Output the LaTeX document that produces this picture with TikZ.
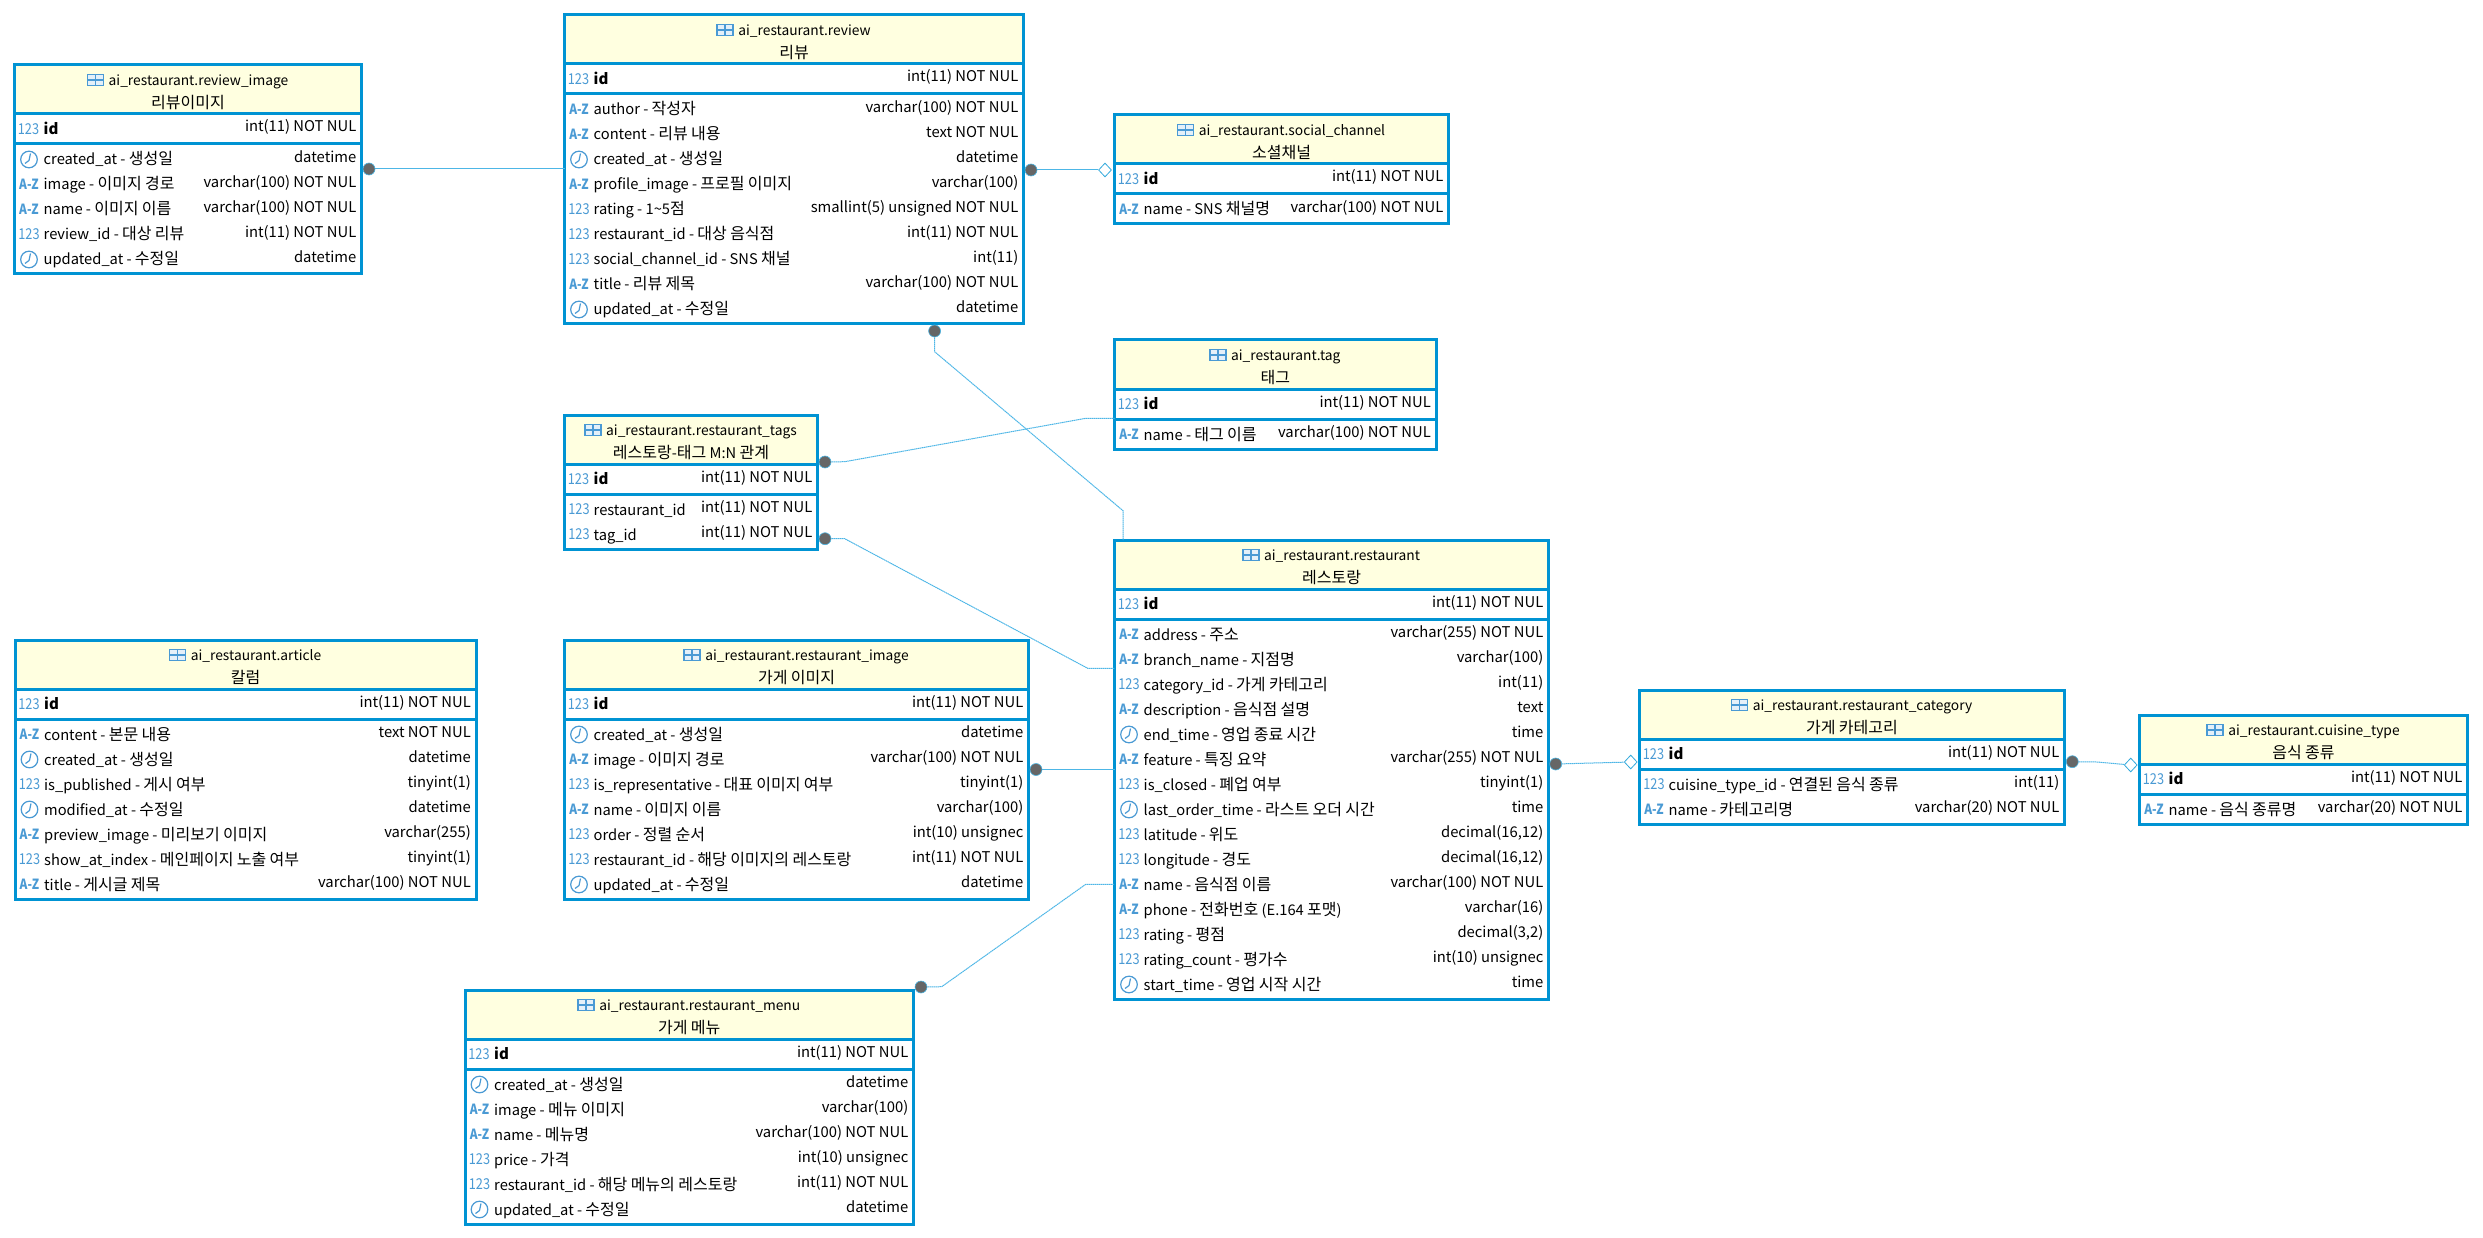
\documentclass[tikz,border=0pt]{standalone}
\usepackage{fontspec}
\setmainfont{Noto Sans CJK KR}
\newfontfamily\krfont[Scale=1.09]{Noto Sans CJK KR}
\newfontfamily\iconfont[FakeStretch=0.85]{Noto Sans CJK KR}
\usepackage{xcolor}
\usetikzlibrary{shapes.geometric}

% hangul is set a little larger than the latin text
\XeTeXinterchartokenstate=1
\newXeTeXintercharclass\krclass
\newcount\krchar
\krchar="AC00
\loop\ifnum\krchar<"D7A4
    \XeTeXcharclass\krchar=\krclass
    \advance\krchar by 1
\repeat
\XeTeXinterchartoks 0 \krclass={\bgroup\krfont}
\XeTeXinterchartoks 4095 \krclass={\bgroup\krfont}
\XeTeXinterchartoks \krclass 0={\egroup}
\XeTeXinterchartoks \krclass 4095={\egroup}

\definecolor{tableblue}{HTML}{0093D3}
\definecolor{headyellow}{HTML}{FFFFE0}
\definecolor{iconblue}{HTML}{4A9AD4}
\definecolor{linkblue}{HTML}{4DB6E6}
\definecolor{dotgray}{HTML}{666666}

\tikzset{
    tablebody/.style={draw=tableblue, line width=3pt, fill=white, rectangle, inner sep=0pt, outer sep=0pt, anchor=north west},
    tablehead/.style={tablebody, fill=headyellow},
    titletext/.style={inner sep=0pt, anchor=base, font=\fontsize{13.8}{18}\selectfont},
    notetext/.style={inner sep=0pt, anchor=base, font=\fontsize{14.7}{18}\selectfont},
    labeltext/.style={inner sep=0pt, anchor=base west, font=\fontsize{14.7}{18}\selectfont},
    typetext/.style={inner sep=0pt, anchor=base east, font=\fontsize{14.8}{18}\selectfont},
    fklink/.style={draw=linkblue, line width=1pt, dash pattern=on 1.5pt off .5pt},
    fkdot/.style={circle, draw=tableblue!70, line width=.6pt, fill=dotgray, minimum size=12pt, inner sep=0pt},
    fkdiamond/.style={diamond, draw=tableblue!80, line width=.8pt, fill=white, minimum width=13pt, minimum height=14pt, inner sep=0pt},
    pics/numicon/.style={code={\node[inner sep=0pt, text=iconblue, font=\iconfont\fontsize{15}{16}\selectfont] (-n) at (0,0) {123};}},
    pics/txticon/.style={code={\node[inner sep=0pt, text=iconblue, font=\iconfont\fontsize{14}{16}\bfseries] (-n) at (0,0) {A-Z};}},
    pics/clkicon/.style={code={
        \draw[iconblue, line width=1.2pt] (0,0) circle (8.3pt);
        \draw[iconblue, line width=1.2pt] (1.5,-6) -- (0,1) -- (-4,4);
    }},
    pics/gridicon/.style={code={
        \fill[iconblue!15] (-8,-5.6) rectangle (8,5.6);
        \draw[iconblue, line width=1.5pt] (-8,-5.6) rectangle (8,5.6);
        \draw[iconblue, line width=1.5pt] (-8,0) -- (8,0) (0,-5.6) -- (0,5.6);
    }},
}

% table frame: name, left, top, width, rows, title, comment, key type
\newcommand{\tablebox}[8]{
    \node[tablebody, minimum width=#4pt, minimum height={84pt+25pt*#5}] (#1) at (#2,#3) {};
    \node[tablehead, minimum width=#4pt, minimum height=49pt] (#1-head) at (#2,#3) {};
    \node[tablebody, minimum width=#4pt, minimum height=30pt] (#1-key) at (#1-head.south west) {};
    \node[titletext, xshift=10.5pt, yshift=-20.8pt] (#1-title) at (#1-head.north) {#6};
    \pic at ([xshift=-13pt, yshift=5.7pt]#1-title.base west) {gridicon};
    \node[notetext, yshift=-43.8pt] (#1-note) at (#1-head.north) {#7};
    \pic (#1-keyicon) at ([xshift=14pt, yshift=-15pt]#1-head.south west) {numicon};
    \node[labeltext, font=\fontsize{15}{18}\bfseries, xshift=29pt, yshift=-20.7pt] (#1-keyname) at (#1-head.south west) {id};
    \node[typetext, xshift=-5pt, yshift=-18pt] (#1-keytype) at (#1-head.south east) {#8};
}
% table row: table, index, icon, label, type
\newcommand{\colrow}[5]{
    \pic (#1-i#2) at ([xshift=14.5pt, yshift={-15.5pt-25pt*(#2-1)}]#1-key.south west) {#3icon};
    \node[labeltext, xshift=29pt, yshift={-21pt-25pt*(#2-1)}] (#1-l#2) at (#1-key.south west) {#4};
    \node[typetext, xshift=-5pt, yshift={-18.5pt-25pt*(#2-1)}] (#1-t#2) at (#1-key.south east) {#5};
}

\begin{document}
\begin{tikzpicture}[x=1pt, y=-1pt]
    \useasboundingbox (0,0) rectangle (2483,1238);

    % Review tables
    \tablebox{reviewimage}{14.5}{65}{347}{5}{ai\_restaurant.review\_image}{리뷰이미지}{int(11) NOT NUL}
    \colrow{reviewimage}{1}{clk}{created\_at - 생성일}{datetime}
    \colrow{reviewimage}{2}{txt}{image - 이미지 경로}{varchar(100) NOT NUL}
    \colrow{reviewimage}{3}{txt}{name - 이미지 이름}{varchar(100) NOT NUL}
    \colrow{reviewimage}{4}{num}{review\_id - 대상 리뷰}{int(11) NOT NUL}
    \colrow{reviewimage}{5}{clk}{updated\_at - 수정일}{datetime}

    \tablebox{review}{564.5}{15}{459}{9}{ai\_restaurant.review}{리뷰}{int(11) NOT NUL}
    \colrow{review}{1}{txt}{author - 작성자}{varchar(100) NOT NUL}
    \colrow{review}{2}{txt}{content - 리뷰 내용}{text NOT NUL}
    \colrow{review}{3}{clk}{created\_at - 생성일}{datetime}
    \colrow{review}{4}{txt}{profile\_image - 프로필 이미지}{varchar(100)}
    \colrow{review}{5}{num}{rating - 1\textasciitilde 5점}{smallint(5) unsigned NOT NUL}
    \colrow{review}{6}{num}{restaurant\_id - 대상 음식점}{int(11) NOT NUL}
    \colrow{review}{7}{num}{social\_channel\_id - SNS 채널}{int(11)}
    \colrow{review}{8}{txt}{title - 리뷰 제목}{varchar(100) NOT NUL}
    \colrow{review}{9}{clk}{updated\_at - 수정일}{datetime}

    \tablebox{socialchannel}{1114.5}{115}{334}{1}{ai\_restaurant.social\_channel}{소셜채널}{int(11) NOT NUL}
    \colrow{socialchannel}{1}{txt}{name - SNS 채널명}{varchar(100) NOT NUL}

    % Tag tables
    \tablebox{tag}{1114.5}{340}{321.5}{1}{ai\_restaurant.tag}{태그}{int(11) NOT NUL}
    \colrow{tag}{1}{txt}{name - 태그 이름}{varchar(100) NOT NUL}

    \tablebox{restauranttags}{564.5}{415}{253}{2}{ai\_restaurant.restaurant\_tags}{레스토랑-태그 M:N 관계}{int(11) NOT NUL}
    \colrow{restauranttags}{1}{num}{restaurant\_id}{int(11) NOT NUL}
    \colrow{restauranttags}{2}{num}{tag\_id}{int(11) NOT NUL}

    % Article
    \tablebox{article}{15}{640}{461}{7}{ai\_restaurant.article}{칼럼}{int(11) NOT NUL}
    \colrow{article}{1}{txt}{content - 본문 내용}{text NOT NUL}
    \colrow{article}{2}{clk}{created\_at - 생성일}{datetime}
    \colrow{article}{3}{num}{is\_published - 게시 여부}{tinyint(1)}
    \colrow{article}{4}{clk}{modified\_at - 수정일}{datetime}
    \colrow{article}{5}{txt}{preview\_image - 미리보기 이미지}{varchar(255)}
    \colrow{article}{6}{num}{show\_at\_index - 메인페이지 노출 여부}{tinyint(1)}
    \colrow{article}{7}{txt}{title - 게시글 제목}{varchar(100) NOT NUL}

    \tablebox{restaurantimage}{564.5}{640}{464}{7}{ai\_restaurant.restaurant\_image}{가게 이미지}{int(11) NOT NUL}
    \colrow{restaurantimage}{1}{clk}{created\_at - 생성일}{datetime}
    \colrow{restaurantimage}{2}{txt}{image - 이미지 경로}{varchar(100) NOT NUL}
    \colrow{restaurantimage}{3}{num}{is\_representative - 대표 이미지 여부}{tinyint(1)}
    \colrow{restaurantimage}{4}{txt}{name - 이미지 이름}{varchar(100)}
    \colrow{restaurantimage}{5}{num}{order - 정렬 순서}{int(10) unsignec}
    \colrow{restaurantimage}{6}{num}{restaurant\_id - 해당 이미지의 레스토랑}{int(11) NOT NUL}
    \colrow{restaurantimage}{7}{clk}{updated\_at - 수정일}{datetime}

    \tablebox{restaurantmenu}{465}{990}{448.5}{6}{ai\_restaurant.restaurant\_menu}{가게 메뉴}{int(11) NOT NUL}
    \colrow{restaurantmenu}{1}{clk}{created\_at - 생성일}{datetime}
    \colrow{restaurantmenu}{2}{txt}{image - 메뉴 이미지}{varchar(100)}
    \colrow{restaurantmenu}{3}{txt}{name - 메뉴명}{varchar(100) NOT NUL}
    \colrow{restaurantmenu}{4}{num}{price - 가격}{int(10) unsignec}
    \colrow{restaurantmenu}{5}{num}{restaurant\_id - 해당 메뉴의 레스토랑}{int(11) NOT NUL}
    \colrow{restaurantmenu}{6}{clk}{updated\_at - 수정일}{datetime}

    % Restaurant and its category
    \tablebox{restaurant}{1114.5}{540}{434}{15}{ai\_restaurant.restaurant}{레스토랑}{int(11) NOT NUL}
    \colrow{restaurant}{1}{txt}{address - 주소}{varchar(255) NOT NUL}
    \colrow{restaurant}{2}{txt}{branch\_name - 지점명}{varchar(100)}
    \colrow{restaurant}{3}{num}{category\_id - 가게 카테고리}{int(11)}
    \colrow{restaurant}{4}{txt}{description - 음식점 설명}{text}
    \colrow{restaurant}{5}{clk}{end\_time - 영업 종료 시간}{time}
    \colrow{restaurant}{6}{txt}{feature - 특징 요약}{varchar(255) NOT NUL}
    \colrow{restaurant}{7}{num}{is\_closed - 폐업 여부}{tinyint(1)}
    \colrow{restaurant}{8}{clk}{last\_order\_time - 라스트 오더 시간}{time}
    \colrow{restaurant}{9}{num}{latitude - 위도}{decimal(16,12)}
    \colrow{restaurant}{10}{num}{longitude - 경도}{decimal(16,12)}
    \colrow{restaurant}{11}{txt}{name - 음식점 이름}{varchar(100) NOT NUL}
    \colrow{restaurant}{12}{txt}{phone - 전화번호 (E.164 포맷)}{varchar(16)}
    \colrow{restaurant}{13}{num}{rating - 평점}{decimal(3,2)}
    \colrow{restaurant}{14}{num}{rating\_count - 평가수}{int(10) unsignec}
    \colrow{restaurant}{15}{clk}{start\_time - 영업 시작 시간}{time}

    \tablebox{restaurantcategory}{1639.5}{690}{425}{2}{ai\_restaurant.restaurant\_category}{가게 카테고리}{int(11) NOT NUL}
    \colrow{restaurantcategory}{1}{num}{cuisine\_type\_id - 연결된 음식 종류}{int(11)}
    \colrow{restaurantcategory}{2}{txt}{name - 카테고리명}{varchar(20) NOT NUL}

    \tablebox{cuisinetype}{2139.5}{715}{328}{1}{ai\_restaurant.cuisine\_type}{음식 종류}{int(11) NOT NUL}
    \colrow{cuisinetype}{1}{txt}{name - 음식 종류명}{varchar(20) NOT NUL}

    % Link end points
    \node[fkdot] (dotreviewimage) at (369,169) {};
    \node[fkdot] (dotreviewsocial) at (1031,170) {};
    \node[fkdiamond] (endsocial) at (1105,170) {};
    \node[fkdot] (dotreview) at (934.6,331) {};
    \node[fkdot] (dottagsname) at (825,462) {};
    \node[fkdot] (dottagsid) at (825,538.7) {};
    \node[fkdot] (dotimage) at (1036,769.5) {};
    \node[fkdot] (dotmenu) at (921,987) {};
    \node[fkdot] (dotcategory) at (1555.7,764) {};
    \node[fkdiamond] (endcategory) at (1630.7,762) {};
    \node[fkdot] (dotcuisine) at (2072.3,761.7) {};
    \node[fkdiamond] (endcuisine) at (2130.7,765) {};

    % Link bends
    \coordinate (bendreviewa) at (934.6,351.7);
    \coordinate (bendreviewb) at (1123,510.7);
    \coordinate (bendtagnamea) at (844.7,461.7);
    \coordinate (bendtagnameb) at (1085.8,418.3);
    \coordinate (bendtagida) at (844.7,538.7);
    \coordinate (bendtagidb) at (1087.7,668.3);
    \coordinate (bendmenua) at (941.7,986.7);
    \coordinate (bendmenub) at (1085.7,884.3);
    \coordinate (bendcuisine) at (2097,762);

    % Draw the links
    \draw[fklink] (dotreviewimage) -- (dotreviewimage -| review.west);
    \draw[fklink] (dotreviewsocial) -- (endsocial);
    \draw[fklink] (dotreview) -- (bendreviewa) -- (bendreviewb) -- (bendreviewb |- restaurant.north);
    \draw[fklink] (dottagsname) -- (bendtagnamea) -- (bendtagnameb) -- (bendtagnameb -| tag.west);
    \draw[fklink] (dottagsid) -- (bendtagida) -- (bendtagidb) -- (bendtagidb -| restaurant.west);
    \draw[fklink] (dotimage) -- (dotimage -| restaurant.west);
    \draw[fklink] (dotmenu) -- (bendmenua) -- (bendmenub) -- (bendmenub -| restaurant.west);
    \draw[fklink] (dotcategory) -- (endcategory);
    \draw[fklink] (dotcuisine) -- (bendcuisine) -- (endcuisine);
\end{tikzpicture}
\end{document}
